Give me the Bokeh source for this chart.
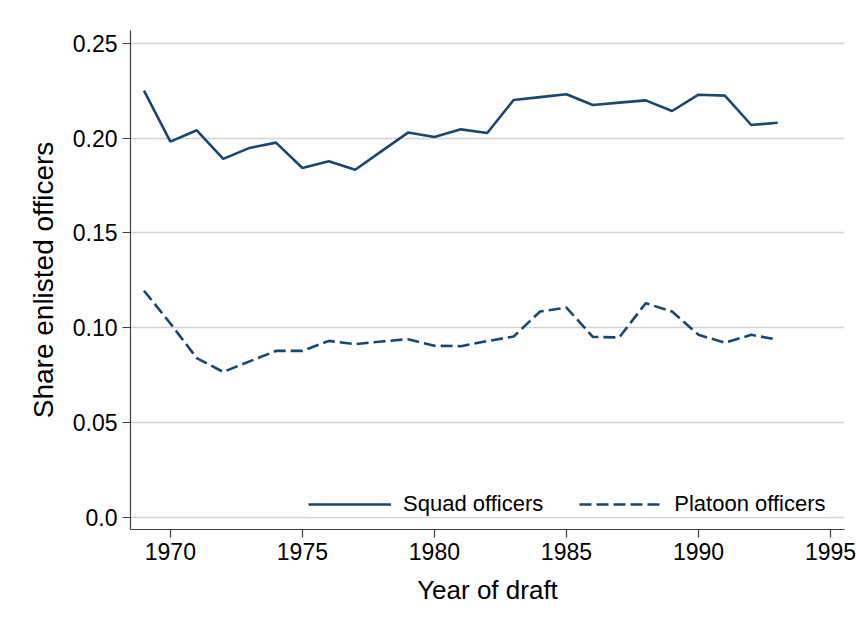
from bokeh.plotting import figure
from bokeh.models import Range1d, Legend, LegendItem, FixedTicker, ColumnDataSource
from bokeh.embed import file_html
from bokeh.resources import INLINE

years = list(range(1969, 1994))
squad = [0.2252, 0.1982, 0.2042, 0.1891, 0.1949, 0.1977, 0.1843, 0.1878, 0.1834,
         0.1932, 0.2030, 0.2007, 0.2047, 0.2028, 0.2202, 0.2217, 0.2232, 0.2176,
         0.2188, 0.2200, 0.2144, 0.2230, 0.2225, 0.2070, 0.2082]
platoon = [0.1195, 0.1022, 0.0839, 0.0766, 0.0822, 0.0877, 0.0877, 0.0930, 0.0913,
           0.0927, 0.0939, 0.0904, 0.0902, 0.0929, 0.0953, 0.1085, 0.1106, 0.0951,
           0.0948, 0.1129, 0.1085, 0.0962, 0.0920, 0.0962, 0.0936]
x_ticks = [1970, 1975, 1980, 1985, 1990, 1995]
y_ticks = [0.0, 0.05, 0.10, 0.15, 0.20, 0.25]
y_tick_labels = ["0.0", "0.05", "0.10", "0.15", "0.20", "0.25"]
series_names = ["Squad officers", "Platoon officers"]

FONT = "Liberation Sans"
COLOR = "#1a476f"

src = ColumnDataSource(dict(year=years, squad=squad, platoon=platoon))

p = figure(width=856, height=625, output_backend="svg", toolbar_location=None,
           x_range=Range1d(1968.49, 1995.53), y_range=Range1d(-0.0066, 0.2569),
           min_border_left=130, min_border_right=12, min_border_top=30, min_border_bottom=96)
p.outline_line_color = None
p.background_fill_color = "white"
p.border_fill_color = "white"

r1 = p.line("year", "squad", source=src, line_color=COLOR, line_width=2.6)
r2 = p.line("year", "platoon", source=src, line_color=COLOR, line_width=2.6, line_dash="12 5")

for ax in (p.xaxis[0], p.yaxis[0]):
    ax.axis_line_color = "#404040"
    ax.axis_line_width = 1.2
    ax.major_tick_line_color = "#404040"
    ax.major_tick_line_width = 1.2
    ax.major_tick_out = 8
    ax.major_tick_in = 0
    ax.minor_tick_line_color = None
    ax.major_label_text_font = FONT
    ax.major_label_text_font_size = "23px"
    ax.major_label_text_color = "black"
    ax.axis_label_text_font = FONT
    ax.axis_label_text_font_style = "normal"
    ax.axis_label_text_color = "black"
    ax.major_label_standoff = 5

p.xaxis.ticker = FixedTicker(ticks=x_ticks)
p.yaxis.ticker = FixedTicker(ticks=y_ticks)
p.yaxis.major_label_overrides = {v: s for v, s in zip(y_ticks, y_tick_labels)}
p.xaxis.axis_label = "Year of draft"
p.yaxis.axis_label = "Share enlisted officers"
p.xaxis.axis_label_text_font_size = "26px"
p.yaxis.axis_label_text_font_size = "28px"
p.xaxis.axis_label_standoff = 12
p.yaxis.axis_label_standoff = 11

p.xgrid.grid_line_color = None
p.ygrid.grid_line_color = "#d4d4d4"
p.ygrid.grid_line_width = 1.6

legend = Legend(items=[LegendItem(label=series_names[0], renderers=[r1]),
                       LegendItem(label=series_names[1], renderers=[r2])],
                orientation="horizontal", location=(178, 12))
legend.label_text_font = FONT
legend.label_text_font_size = "22px"
legend.label_text_color = "black"
legend.glyph_width = 83
legend.glyph_height = 20
legend.label_standoff = 12
legend.spacing = 36
legend.padding = 10
legend.margin = 0
legend.border_line_color = None
legend.background_fill_color = "white"
legend.background_fill_alpha = 1.0
p.add_layout(legend)

open("out.html", "w").write(file_html(p, INLINE))
